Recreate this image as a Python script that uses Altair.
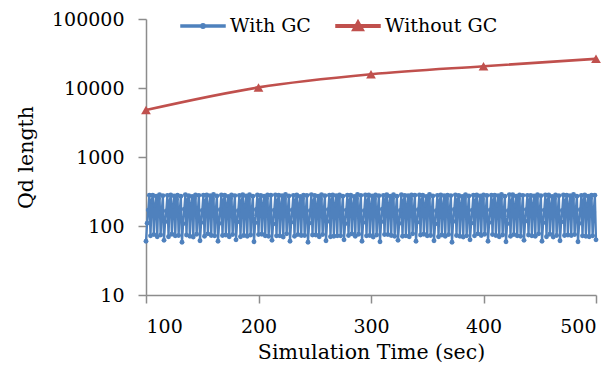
import altair as alt
import pandas as pd

# ---- data ----
series_names = ["With GC", "Without GC"]

red_time = [100, 200, 300, 400, 500]
red_len = [4800, 10200, 15800, 20700, 26500]

# "With GC": one sample per second from 100 to 500 s (rows = one 16 s cycle)
blue_len = [
    60, 110, 170, 280, 72, 230, 280, 75, 200, 270, 70, 250, 285, 74, 160, 275,
    62, 115, 165, 278, 70, 225, 282, 76, 195, 272, 72, 245, 280, 73, 165, 270,
    58, 108, 175, 284, 74, 235, 276, 71, 205, 268, 69, 255, 283, 76, 155, 278,
    61, 112, 168, 279, 71, 228, 281, 77, 198, 274, 73, 248, 286, 72, 162, 273,
    60, 109, 172, 282, 73, 232, 279, 74, 202, 269, 70, 252, 281, 75, 158, 276,
    63, 114, 166, 277, 70, 226, 284, 73, 196, 273, 71, 247, 284, 74, 164, 271,
    59, 111, 174, 281, 75, 234, 277, 76, 204, 270, 72, 253, 282, 71, 157, 279,
    62, 107, 169, 283, 72, 229, 280, 72, 199, 275, 69, 249, 287, 77, 163, 272,
    60, 113, 171, 278, 71, 231, 283, 75, 201, 267, 73, 251, 280, 73, 159, 277,
    58, 110, 167, 285, 74, 227, 278, 74, 197, 271, 70, 246, 285, 75, 161, 274,
    61, 116, 173, 280, 70, 233, 282, 71, 203, 276, 72, 254, 283, 72, 156, 270,
    63, 108, 170, 279, 73, 230, 279, 77, 200, 268, 71, 250, 286, 76, 166, 278,
    60, 112, 166, 282, 72, 226, 281, 73, 196, 273, 69, 248, 281, 74, 160, 275,
    59, 115, 175, 277, 75, 235, 284, 75, 205, 270, 73, 252, 284, 71, 158, 271,
    62, 109, 168, 284, 71, 228, 277, 72, 198, 274, 70, 247, 282, 77, 164, 279,
    60, 113, 172, 281, 74, 232, 280, 76, 202, 269, 72, 253, 287, 73, 157, 273,
    61, 107, 167, 278, 70, 227, 283, 74, 197, 275, 71, 249, 280, 75, 163, 276,
    58, 116, 174, 283, 73, 234, 278, 71, 204, 268, 69, 255, 285, 72, 159, 272,
    63, 110, 169, 280, 72, 229, 282, 77, 199, 272, 73, 246, 283, 76, 165, 277,
    60, 112, 171, 279, 75, 231, 279, 73, 201, 276, 70, 251, 286, 74, 161, 270,
    59, 108, 166, 285, 71, 226, 284, 75, 196, 270, 72, 248, 281, 71, 156, 278,
    62, 117, 173, 278, 74, 233, 277, 72, 203, 273, 71, 254, 284, 77, 162, 274,
    60, 111, 170, 282, 70, 230, 281, 76, 200, 267, 69, 250, 282, 73, 158, 275,
    61, 114, 168, 281, 73, 228, 280, 74, 198, 274, 73, 247, 287, 75, 164, 271,
    59, 109, 172, 277, 72, 232, 283, 71, 202, 271, 70, 252, 280, 72, 160, 279,
    63,
]
blue_time = [100 + i for i in range(len(blue_len))]

x_ticks = [100, 200, 300, 400, 500]
y_ticks = [10, 100, 1000, 10000, 100000]

BLUE = "#4F81BD"
RED = "#C0504D"
FONT = "DejaVu Serif"

blue_df = pd.DataFrame({"t": blue_time, "q": blue_len, "series": series_names[0]})
red_df = pd.DataFrame({"t": red_time, "q": red_len, "series": series_names[1]})

color_scale = alt.Scale(domain=series_names, range=[BLUE, RED])
# legend symbols: a short line with the marker on it
blue_sym = ("M-1,-0.045 L1,-0.045 L1,0.045 L-1,0.045 Z "
            "M-0.1,0 A0.1,0.1 0 1,1 0.1,0 A0.1,0.1 0 1,1 -0.1,0 Z")
red_sym = ("M-1,-0.06 L1,-0.06 L1,0.06 L-1,0.06 Z "
           "M-0.26,0.21 L0,-0.26 L0.26,0.21 Z")
shape_scale = alt.Scale(domain=series_names, range=[blue_sym, red_sym])

x_enc = alt.X("t:Q", scale=alt.Scale(domain=[100, 500], nice=False),
              axis=alt.Axis(values=x_ticks, format="d", title="Simulation Time (sec)"))
y_enc = alt.Y("q:Q", scale=alt.Scale(type="log", domain=[10, 100000], nice=False),
              axis=alt.Axis(values=y_ticks, format="d", title="Qd length"))

legend = alt.Legend(
    title=None, orient="none", legendX=34, legendY=-16, direction="horizontal",
    symbolSize=1936, labelFont=FONT, labelFontSize=19, labelColor="black",
    columnPadding=22, labelOffset=4,
)

col = alt.Color("series:N", scale=color_scale, legend=legend)

blue_line = alt.Chart(blue_df).mark_line(strokeWidth=2.3).encode(x=x_enc, y=y_enc, color=col)
blue_pts = alt.Chart(blue_df).mark_point(shape="circle", filled=True, size=24, opacity=1).encode(
    x=x_enc, y=y_enc, color=col)
red_line = alt.Chart(red_df).mark_line(strokeWidth=2.6, interpolate="monotone").encode(
    x=x_enc, y=y_enc, color=col)
red_pts = alt.Chart(red_df).mark_point(shape="triangle-up", filled=True, size=95, opacity=1).encode(
    x=x_enc, y=y_enc, color=col)
legend_layer = alt.Chart(red_df).transform_filter("datum.t < 0").mark_point(
    filled=True, opacity=1).encode(
    x=x_enc, y=y_enc, color=col,
    shape=alt.Shape("series:N", scale=shape_scale, legend=legend))

chart = alt.layer(blue_line, blue_pts, red_line, red_pts, legend_layer).properties(
    width=450, height=276,
    autosize=alt.AutoSizeParams(type="none"),
    padding={"left": 138, "top": 11, "right": 11, "bottom": 73},
).configure_view(stroke=None).configure_axis(
    grid=False, domainColor="#8c8c8c", tickColor="#8c8c8c", domainWidth=1.5,
    tickWidth=1.5, tickSize=8, labelFont=FONT, labelFontSize=19, labelColor="black",
    titleFont=FONT, titleFontWeight="normal", titleColor="black",
).configure_axisY(labelPadding=14, titlePadding=15, titleFontSize=20.5).configure_axisX(
    labelPadding=14, titlePadding=6, titleFontSize=20.5)

chart.save("out.html", embed_options={"renderer": "svg", "actions": False})
